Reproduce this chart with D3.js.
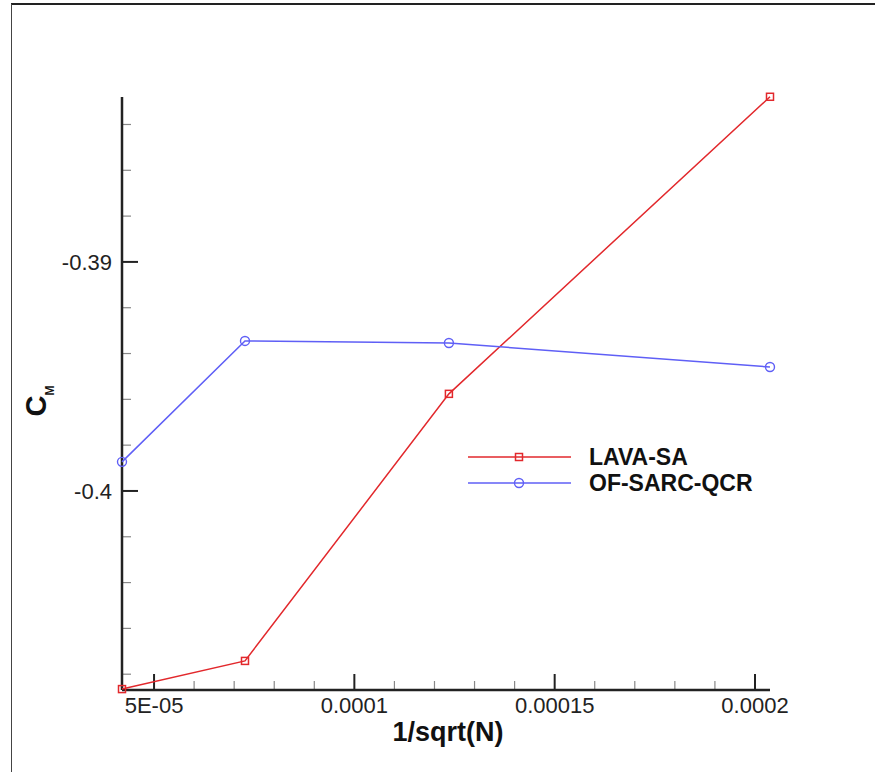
<!DOCTYPE html>
<html>
<head>
<meta charset="utf-8">
<script src="https://cdn.jsdelivr.net/npm/d3@7"></script>
<style>
  html, body { margin: 0; padding: 0; background: #fff; }
  #chart { width: 879px; height: 772px; }
  text { font-family: "Liberation Sans", Arial, sans-serif; }
</style>
</head>
<body>
<div id="chart"></div>
<script>
// grid resolution values
const xValues = [4.2e-5, 7.27e-5, 1.236e-4, 2.0375e-4];
const lavaSA = [-0.40865, -0.40742, -0.39576, -0.38279];
const ofSarcQcr = [-0.39873, -0.39345, -0.39354, -0.39459];

const xMajorTicks = [5e-5, 1e-4, 1.5e-4, 2e-4];
const xTickLabels = ["5E-05", "0.0001", "0.00015", "0.0002"];
const yMajorTicks = [-0.39, -0.4];
const yTickLabels = ["-0.39", "-0.4"];

const series = [
  { name: "LAVA-SA", values: lavaSA, color: "#e2282c", marker: "square" },
  { name: "OF-SARC-QCR", values: ofSarcQcr, color: "#5f5ff6", marker: "circle" },
];

const width = 879;
const height = 772;
const plot = { left: 122, right: 770, top: 97, bottom: 690 };

const svg = d3
  .select("#chart")
  .append("svg")
  .attr("width", width)
  .attr("height", height)
  .attr("viewBox", [0, 0, width, height]);

// outer frame (top + left edge of the page frame)
svg.append("line")
  .attr("x1", 11).attr("x2", 875).attr("y1", 4).attr("y2", 4)
  .attr("stroke", "#222").attr("stroke-width", 2);
svg.append("line")
  .attr("x1", 11.5).attr("x2", 11.5).attr("y1", 4).attr("y2", height)
  .attr("stroke", "#444").attr("stroke-width", 1);

const x = d3.scaleLinear().domain([4.2e-5, 2.0375e-4]).range([plot.left, plot.right]);
const y = d3.scaleLinear().domain([-0.40869, -0.3828]).range([plot.bottom, plot.top]);

const xMinor = d3.range(5, 21).map((i) => i * 1e-5).filter((v) => !xMajorTicks.some((m) => Math.abs(m - v) < 1e-9));
const yMinor = d3.range(-204, -191).map((i) => i * 0.002).filter((v) => v >= y.domain()[0] && v <= y.domain()[1] && !yMajorTicks.some((m) => Math.abs(m - v) < 1e-9));

// x ticks, pointing up into the plot
const xAxis = svg.append("g");
xAxis.selectAll("line.minor")
  .data(xMinor)
  .join("line")
  .attr("x1", (d) => x(d)).attr("x2", (d) => x(d))
  .attr("y1", plot.bottom).attr("y2", plot.bottom - 9)
  .attr("stroke", "#888").attr("stroke-width", 1.2);
xAxis.selectAll("line.major")
  .data(xMajorTicks)
  .join("line")
  .attr("x1", (d) => x(d)).attr("x2", (d) => x(d))
  .attr("y1", plot.bottom).attr("y2", plot.bottom - 16)
  .attr("stroke", "#222").attr("stroke-width", 2);
xAxis.selectAll("text")
  .data(xMajorTicks)
  .join("text")
  .attr("x", (d) => x(d))
  .attr("y", plot.bottom + 23)
  .attr("text-anchor", "middle")
  .attr("font-size", 22)
  .attr("fill", "#222")
  .text((d, i) => xTickLabels[i]);

// y ticks, pointing right into the plot
const yAxis = svg.append("g");
yAxis.selectAll("line.minor")
  .data(yMinor)
  .join("line")
  .attr("x1", plot.left).attr("x2", plot.left + 9)
  .attr("y1", (d) => y(d)).attr("y2", (d) => y(d))
  .attr("stroke", "#888").attr("stroke-width", 1.2);
yAxis.selectAll("line.major")
  .data(yMajorTicks)
  .join("line")
  .attr("x1", plot.left).attr("x2", plot.left + 16)
  .attr("y1", (d) => y(d)).attr("y2", (d) => y(d))
  .attr("stroke", "#222").attr("stroke-width", 2);
yAxis.selectAll("text")
  .data(yMajorTicks)
  .join("text")
  .attr("x", plot.left - 10)
  .attr("y", (d) => y(d) + 8)
  .attr("text-anchor", "end")
  .attr("font-size", 22)
  .attr("fill", "#222")
  .text((d, i) => yTickLabels[i]);

// axis lines
svg.append("line")
  .attr("x1", plot.left).attr("x2", plot.right)
  .attr("y1", plot.bottom).attr("y2", plot.bottom)
  .attr("stroke", "#222").attr("stroke-width", 2.5);
svg.append("line")
  .attr("x1", plot.left).attr("x2", plot.left)
  .attr("y1", plot.top).attr("y2", plot.bottom)
  .attr("stroke", "#222").attr("stroke-width", 2.5);

// axis titles
svg.append("text")
  .attr("x", 448).attr("y", 741)
  .attr("text-anchor", "middle")
  .attr("font-size", 27).attr("font-weight", "bold")
  .attr("fill", "#111")
  .text("1/sqrt(N)");

const yTitle = svg.append("text")
  .attr("transform", "translate(46,401) rotate(-90)")
  .attr("text-anchor", "middle")
  .attr("font-weight", "bold")
  .attr("fill", "#111");
yTitle.append("tspan").attr("font-size", 29).text("C");
yTitle.append("tspan").attr("font-size", 12).attr("dy", 8).text("M");

// series
const line = d3.line().x((d, i) => x(xValues[i])).y((d) => y(d));

function drawMarker(g, type, cx, cy, color) {
  if (type === "square") {
    g.append("rect")
      .attr("x", cx - 3.5).attr("y", cy - 3.5)
      .attr("width", 7).attr("height", 7)
      .attr("fill", "none").attr("stroke", color).attr("stroke-width", 1.5);
  } else {
    g.append("circle")
      .attr("cx", cx).attr("cy", cy).attr("r", 4.5)
      .attr("fill", "none").attr("stroke", color).attr("stroke-width", 1.4);
  }
}

series.forEach((s) => {
  const g = svg.append("g");
  g.append("path")
    .datum(s.values)
    .attr("d", line)
    .attr("fill", "none")
    .attr("stroke", s.color)
    .attr("stroke-width", 1.5);
  s.values.forEach((v, i) => drawMarker(g, s.marker, x(xValues[i]), y(v), s.color));
});

// legend
const legend = svg.append("g");
series.forEach((s, i) => {
  const ly = 457 + i * 26;
  legend.append("line")
    .attr("x1", 468).attr("x2", 571)
    .attr("y1", ly).attr("y2", ly)
    .attr("stroke", s.color).attr("stroke-width", 1.5);
  drawMarker(legend, s.marker, 519, ly, s.color);
  legend.append("text")
    .attr("x", 589).attr("y", ly + 8)
    .attr("font-size", 23).attr("font-weight", "bold")
    .attr("fill", "#111")
    .text(s.name);
});
</script>
</body>
</html>
